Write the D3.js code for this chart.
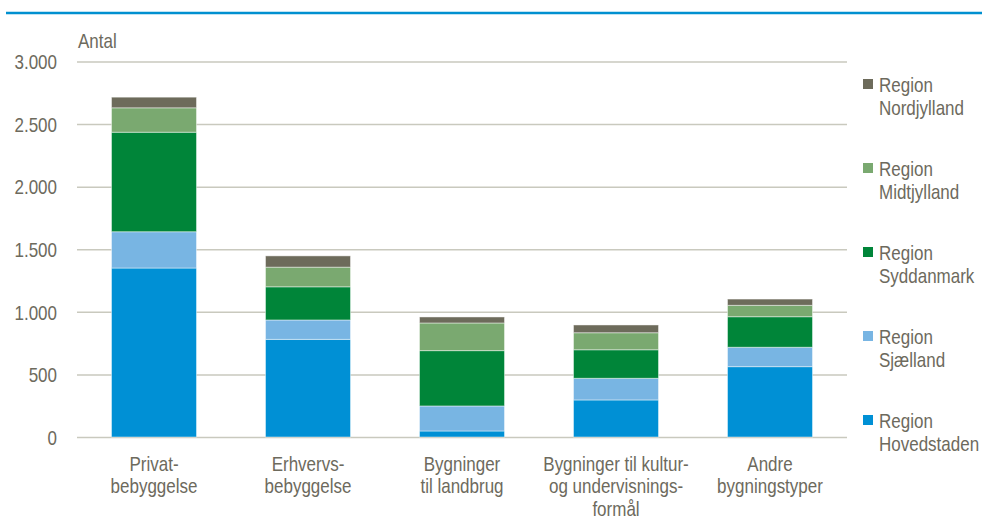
<!DOCTYPE html>
<html>
<head>
<meta charset="utf-8">
<script src="https://cdn.jsdelivr.net/npm/d3@7"></script>
<style>
  body { margin: 0; background: #fff; }
  text { font-family: "Liberation Sans", Arial, sans-serif; font-size: 20px; fill: #6d6a5d; }
</style>
</head>
<body>
<script>
// Data
var categories = ["Privat", "Erhverv", "Landbrug", "Kultur", "Andre"];
var categoryLines = [
    ["Privat-", "bebyggelse"],
    ["Erhvervs-", "bebyggelse"],
    ["Bygninger", "til landbrug"],
    ["Bygninger til kultur-", "og undervisnings-", "formål"],
    ["Andre", "bygningstyper"]
];
var regions = ["Region Hovedstaden", "Region Sjælland", "Region Syddanmark", "Region Midtjylland", "Region Nordjylland"];
var hovedstaden = [1350, 780, 48, 296, 562];
var sjaelland   = [290, 155, 200, 173, 155];
var syddanmark  = [795, 265, 442, 228, 244];
var midtjylland = [195, 157, 221, 136, 91];
var nordjylland = [85, 90, 48, 62, 50];
var yTicks = [0, 500, 1000, 1500, 2000, 2500, 3000];

window.onload = function() {

    var w = 982, h = 520;
    var sx = 0.85; // squeeze text to look like a narrow face
    var colors = ["#0090d5", "#78b5e3", "#008539", "#7aa970", "#6d6b5b"];
    var series = [hovedstaden, sjaelland, syddanmark, midtjylland, nordjylland];

    // build rows for the stack
    var rows = categories.map(function(c, i) {
        var r = { cat: c };
        regions.forEach(function(k, j) { r[k] = series[j][i]; });
        return r;
    });

    var svg = d3.select("body")
        .append("svg")
        .attr("width", w)
        .attr("height", h);

    // Blue rule under the (cropped) heading
    svg.append("line")
        .attr("x1", 6).attr("x2", w)
        .attr("y1", 13).attr("y2", 13)
        .style("stroke", "#0090d0")
        .style("stroke-width", 2.5);

    // Scales
    var x = d3.scaleBand()
        .domain(categories)
        .range([77, 847])
        .paddingInner(0.448)
        .paddingOuter(0.224);

    var y = d3.scaleLinear()
        .domain([0, 3000])
        .range([437, 61.5]);

    var locale = d3.formatLocale({ decimal: ",", thousands: ".", grouping: [3], currency: ["", " kr"] });
    var fmt = locale.format(",");

    // Axis + gridlines
    var yAxis = d3.axisLeft(y)
        .tickValues(yTicks)
        .tickFormat(fmt)
        .tickSizeInner(-770)
        .tickSizeOuter(0)
        .tickPadding(20);

    var axis = svg.append("g")
        .attr("transform", "translate(77,0)")
        .call(yAxis);
    axis.select(".domain").remove();
    axis.selectAll(".tick line")
        .style("stroke", "#c9c9be")
        .style("stroke-width", 1.5);
    axis.selectAll(".tick text")
        .attr("font-size", null)
        .attr("font-family", null)
        .attr("fill", null)
        .attr("x", -20 / sx)
        .attr("dy", "0.36em")
        .attr("transform", "scale(" + sx + ",1)");

    svg.append("text")
        .attr("transform", "translate(78,48) scale(" + sx + ",1)")
        .text("Antal");

    // Stacked bars
    var stack = d3.stack().keys(regions);
    var layers = stack(rows);

    var groups = svg.selectAll(".layer")
        .data(layers)
        .enter()
        .append("g")
        .attr("class", "layer")
        .style("fill", function(d, i) { return colors[i]; });

    groups.selectAll("rect")
        .data(function(d) { return d; })
        .enter()
        .append("rect")
        .attr("x", function(d) { return x(d.data.cat); })
        .attr("width", x.bandwidth())
        .attr("y", function(d) { return y(d[1]); })
        .attr("height", function(d) { return y(d[0]) - y(d[1]); })
        .style("stroke", "#ffffff")
        .style("stroke-opacity", 0.45)
        .style("stroke-width", 1);

    // Category labels
    var catLabels = svg.selectAll(".cat")
        .data(categories)
        .enter()
        .append("text")
        .attr("class", "cat")
        .attr("text-anchor", "middle")
        .attr("transform", function(d) {
            return "translate(" + (x(d) + x.bandwidth() / 2) + ",471) scale(" + sx + ",1)";
        });

    catLabels.selectAll("tspan")
        .data(function(d, i) { return categoryLines[i]; })
        .enter()
        .append("tspan")
        .attr("x", 0)
        .attr("dy", function(d, i) { return i === 0 ? 0 : 22.5; })
        .text(function(d) { return d; });

    // Legend (top item = top of stack)
    var legendOrder = regions.slice().reverse();
    var legend = svg.selectAll(".legend")
        .data(legendOrder)
        .enter()
        .append("g")
        .attr("class", "legend")
        .attr("transform", function(d, i) { return "translate(863," + (79 + i * 84) + ")"; });

    legend.append("rect")
        .attr("width", 10)
        .attr("height", 10)
        .style("fill", function(d) { return colors[regions.indexOf(d)]; });

    var legText = legend.append("text")
        .attr("transform", "translate(16,13) scale(" + sx + ",1)");
    legText.append("tspan")
        .attr("x", 0)
        .text(function(d) { return d.split(" ")[0]; });
    legText.append("tspan")
        .attr("x", 0)
        .attr("dy", 23)
        .text(function(d) { return d.split(" ")[1]; });
};
</script>
</body>
</html>
